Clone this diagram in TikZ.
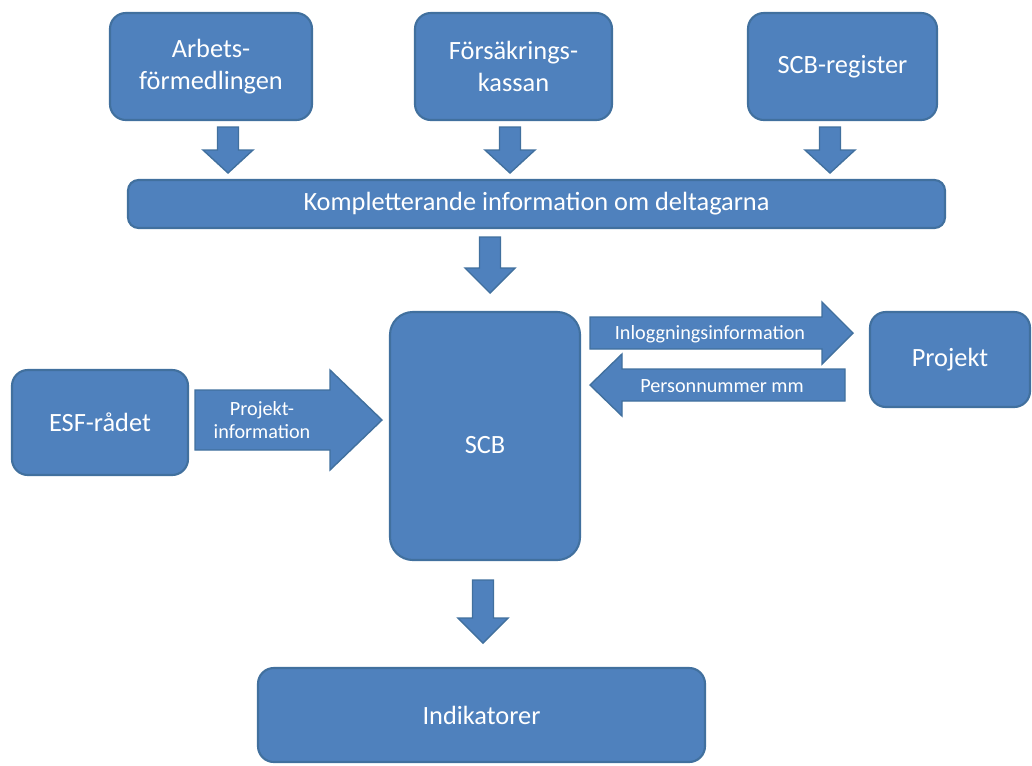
\documentclass[tikz,border=0pt]{standalone}
\usepackage{fontspec}
\setmainfont{Carlito}
\definecolor{boxblue}{HTML}{4F81BD}
\definecolor{boxedge}{HTML}{41709E}
\tikzset{
  box/.style={fill=boxblue, draw=boxedge, line width=1.2pt, rounded corners=9pt, inner sep=0pt, text=white, align=center, font=\fontsize{15}{18}\selectfont},
  span/.style n args={4}{minimum width={(#3-#1)*0.02cm}, minimum height={(#4-#2)*0.02cm}, at={({(#1+#3)/2},{(#2+#4)/2})}},
  blk/.style={fill=boxblue, draw=boxedge, line width=0.8pt},
  lbl/.style={text=white, align=center, font=\fontsize{11.5}{13}\selectfont, inner sep=0pt}
}
% vertical block arrow: x, top, head start, tip
\newcommand\blkdown[4]{\draw[blk] (#1-10.5,#2) -- (#1+10.5,#2) -- (#1+10.5,#3) -- (#1+25,#3) -- (#1,#4) -- (#1-25,#3) -- (#1-10.5,#3) -- cycle;}
% horizontal block arrow: y, tail x, head start x, tip x, shaft half, head half
\newcommand\blkhor[6]{\draw[blk] (#2,#1-#5) -- (#3,#1-#5) -- (#3,#1-#6) -- (#4,#1) -- (#3,#1+#6) -- (#3,#1+#5) -- (#2,#1+#5) -- cycle;}
\begin{document}
\begin{tikzpicture}[x=0.02cm, y=-0.02cm]
\useasboundingbox (0,0) rectangle (1032,765);
% boxes
\node[box, span={110}{13}{312}{120}] (af) {Arbets-\\förmedlingen};
\node[box, span={415}{13}{612}{120}] (fk) {Försäkrings-\\kassan};
\node[box, span={748}{13}{937}{120}] (scbr) {SCB-register};
\node[box, rounded corners=6pt, span={128}{180}{945}{228}] (komp) {Kompletterande information om deltagarna};
\node[box, rounded corners=13pt, span={390}{312}{580}{560}] (scb) {};
\node[text=white, font=\fontsize{15}{18}\selectfont] (scbt) at (485,445) {SCB};
\node[box, span={12}{370}{188}{475}] (esf) {ESF-rådet};
\node[box, span={870}{312}{1030}{407}] (proj) {Projekt};
\node[box, span={258}{668}{705}{762}] (ind) {Indikatorer};
% down arrows
\blkdown{228}{127}{150}{173}
\blkdown{510}{127}{150}{173}
\blkdown{830}{127}{150}{173}
\blkdown{490}{237}{268}{293}
\blkdown{483}{580}{618}{643}
% horizontal arrows
\blkhor{420}{195}{330}{382}{30}{50}
\node[lbl] (pi) at (262,420) {Projekt-\\information};
\blkhor{333}{590}{822}{853}{16}{31}
\node[lbl] (inl) at (710,334) {Inloggningsinformation};
\blkhor{385}{845}{622}{590}{16}{31}
\node[lbl] (pnr) at (722,386) {Personnummer mm};
\end{tikzpicture}
\end{document}
